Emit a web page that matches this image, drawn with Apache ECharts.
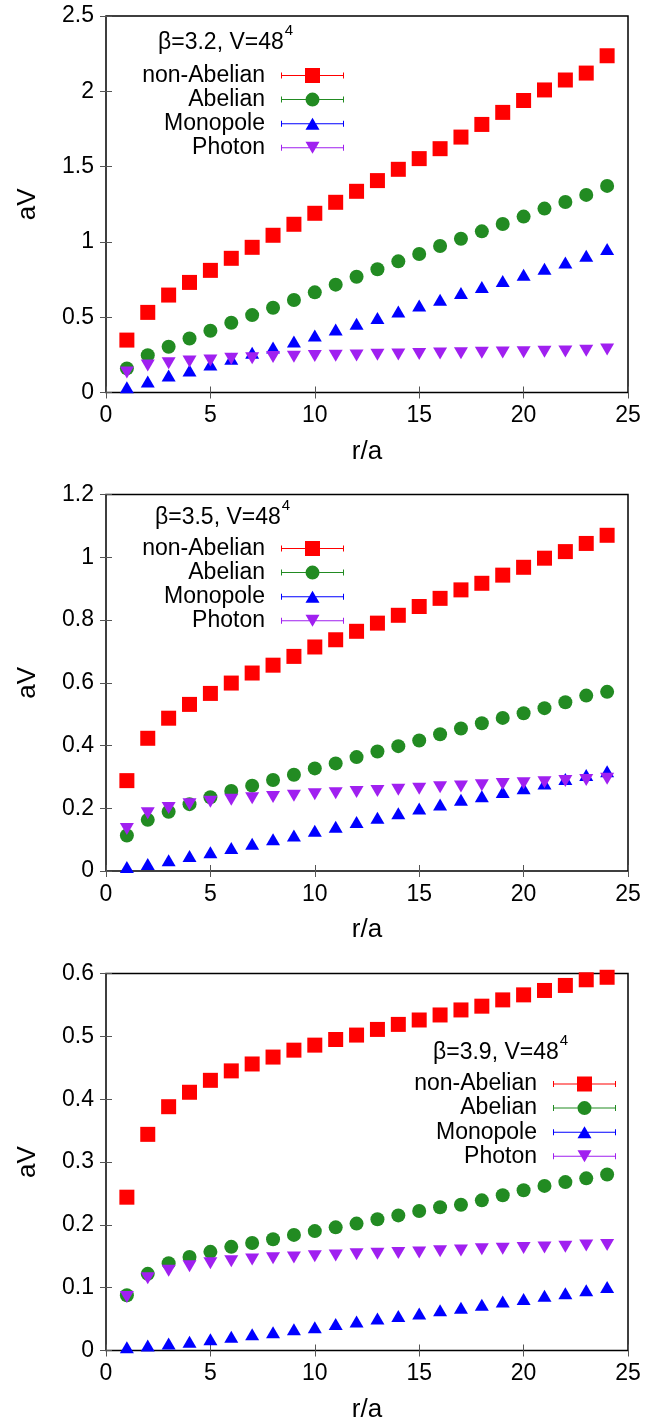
<!DOCTYPE html>
<html>
<head>
<meta charset="utf-8">
<script src="https://cdn.jsdelivr.net/npm/echarts@6/dist/echarts.min.js"></script>
<style>
  html, body { margin: 0; padding: 0; background: #fff; }
  #chart { width: 648px; height: 1426px; }
</style>
</head>
<body>
<div id="chart"></div>
<script>
// Static potential aV versus separation r/a for three lattice couplings
const R = [1,2,3,4,5,6,7,8,9,10,11,12,13,14,15,16,17,18,19,20,21,22,23,24];
const xTicks = { min: 0, max: 25, interval: 5 };

// beta = 3.2
const nonAbelian32 = [0.348,0.532,0.647,0.731,0.811,0.891,0.964,1.044,1.117,1.190,1.263,1.336,1.407,1.482,1.553,1.619,1.696,1.780,1.860,1.939,2.009,2.075,2.121,2.236];
const abelian32    = [0.160,0.248,0.304,0.359,0.410,0.463,0.514,0.563,0.614,0.665,0.716,0.769,0.818,0.871,0.920,0.973,1.021,1.070,1.119,1.168,1.221,1.265,1.312,1.372];
const monopole32   = [0.035,0.073,0.113,0.146,0.186,0.224,0.264,0.299,0.339,0.379,0.419,0.456,0.494,0.538,0.578,0.616,0.660,0.700,0.740,0.782,0.822,0.864,0.908,0.953];
const photon32     = [0.133,0.179,0.195,0.206,0.213,0.224,0.228,0.235,0.237,0.242,0.244,0.246,0.250,0.253,0.255,0.259,0.261,0.264,0.266,0.268,0.270,0.273,0.277,0.286];

// beta = 3.5
const nonAbelian35 = [0.288,0.423,0.487,0.531,0.566,0.599,0.631,0.656,0.684,0.714,0.737,0.764,0.790,0.815,0.843,0.869,0.896,0.917,0.943,0.968,0.997,1.018,1.044,1.070];
const abelian35    = [0.113,0.163,0.189,0.213,0.235,0.255,0.272,0.290,0.307,0.327,0.343,0.363,0.381,0.398,0.416,0.436,0.454,0.471,0.488,0.503,0.519,0.538,0.559,0.571];
const monopole35   = [0.013,0.022,0.034,0.048,0.060,0.073,0.087,0.101,0.113,0.128,0.141,0.156,0.170,0.184,0.199,0.212,0.227,0.238,0.252,0.264,0.279,0.293,0.306,0.318];
const photon35     = [0.134,0.184,0.201,0.213,0.221,0.227,0.232,0.236,0.240,0.245,0.248,0.252,0.255,0.259,0.262,0.267,0.269,0.273,0.277,0.280,0.283,0.287,0.290,0.294];

// beta = 3.9
const nonAbelian39 = [0.244,0.344,0.388,0.411,0.430,0.445,0.456,0.467,0.478,0.486,0.495,0.502,0.511,0.519,0.526,0.534,0.542,0.548,0.558,0.566,0.573,0.581,0.590,0.594];
const abelian39    = [0.088,0.122,0.139,0.149,0.157,0.165,0.171,0.177,0.184,0.190,0.196,0.202,0.209,0.215,0.222,0.228,0.232,0.239,0.247,0.255,0.262,0.268,0.274,0.280];
const monopole39   = [0.005,0.008,0.011,0.014,0.018,0.022,0.026,0.029,0.034,0.037,0.042,0.046,0.051,0.055,0.059,0.064,0.068,0.073,0.078,0.082,0.087,0.091,0.096,0.101];
const photon39     = [0.085,0.115,0.127,0.134,0.139,0.142,0.145,0.147,0.148,0.150,0.151,0.153,0.154,0.155,0.156,0.158,0.159,0.161,0.162,0.163,0.164,0.165,0.167,0.168];

const seriesNames = ['non-Abelian', 'Abelian', 'Monopole', 'Photon'];
const panelTitles = ['3.2', '3.5', '3.9'];
const yRanges = [
  { max: 2.5, interval: 0.5 },
  { max: 1.2, interval: 0.2 },
  { max: 0.6, interval: 0.1 }
];
const panelData = [
  [nonAbelian32, abelian32, monopole32, photon32],
  [nonAbelian35, abelian35, monopole35, photon35],
  [nonAbelian39, abelian39, monopole39, photon39]
];

const FONT = 'Liberation Sans, Arial, Helvetica, sans-serif';
const colors = ['#ff0000', '#228b22', '#0000ff', '#a020f0'];
const symbols = [
  { symbol: 'rect', symbolSize: 15, symbolRotate: 0 },
  { symbol: 'circle', symbolSize: 14, symbolRotate: 0 },
  { symbol: 'triangle', symbolSize: [14, 12], symbolRotate: 0 },
  { symbol: 'triangle', symbolSize: [14, 12], symbolRotate: 180 }
];

// key samples: error-bar style line with end caps and the marker in the middle
const barPart = 'M0 0 M63 16 M0 5 H1 V11 H0 Z M62 5 H63 V11 H62 Z M1 7.5 H62 V8.5 H1 Z ';
const keyIcons = [
  'path://' + barPart + 'M24 0.5 H39 V15.5 H24 Z',
  'path://' + barPart + 'M24.5 8 A7 7 0 1 1 38.5 8 A7 7 0 1 1 24.5 8 Z',
  'path://' + barPart + 'M31.5 2 L38.5 14 L24.5 14 Z',
  'path://' + barPart + 'M24.5 2 L38.5 2 L31.5 14 Z'
];

const grids = [
  { left: 106, right: 20, top: 16, height: 376.5 },
  { left: 106, right: 20, top: 494.5, height: 376.5 },
  { left: 106, right: 20, top: 973.5, height: 377 }
];

// key placement per panel
const keyLayout = [
  { right: 304, top: 64, titleLeft: 158, titleTop: 23 },
  { right: 304, top: 537, titleLeft: 155, titleTop: 498.5 },
  { right: 32, top: 1072.5, titleLeft: 433, titleTop: 1033.5 }
];

const xAxes = [], yAxes = [], series = [], legends = [], titles = [];

grids.forEach((g, k) => {
  g.show = true;
  g.borderColor = '#000';
  g.borderWidth = 1.5;
  g.backgroundColor = 'transparent';

  const tick = { show: true, inside: true, length: 6, lineStyle: { color: '#555', width: 1 } };

  xAxes.push({
    type: 'value', gridIndex: k, position: 'bottom',
    min: xTicks.min, max: xTicks.max, interval: xTicks.interval,
    name: 'r/a', nameLocation: 'middle', nameGap: 46,
    nameTextStyle: { fontSize: 26, fontFamily: FONT, color: '#000' },
    axisLine: { show: false },
    axisTick: tick,
    axisLabel: { fontSize: 23, fontFamily: FONT, color: '#000', margin: 12 },
    splitLine: { show: false }
  });
  xAxes.push({
    type: 'value', gridIndex: k, position: 'top',
    min: xTicks.min, max: xTicks.max, interval: xTicks.interval,
    axisLine: { show: false }, axisTick: tick,
    axisLabel: { show: false }, splitLine: { show: false }
  });
  yAxes.push({
    type: 'value', gridIndex: k, position: 'left',
    min: 0, max: yRanges[k].max, interval: yRanges[k].interval,
    name: 'aV', nameLocation: 'middle', nameGap: 65, nameRotate: 90,
    nameTextStyle: { fontSize: 26, fontFamily: FONT, color: '#000' },
    axisLine: { show: false },
    axisTick: tick,
    axisLabel: { fontSize: 23, fontFamily: FONT, color: '#000', margin: 12 },
    splitLine: { show: false }
  });
  yAxes.push({
    type: 'value', gridIndex: k, position: 'right',
    min: 0, max: yRanges[k].max, interval: yRanges[k].interval,
    axisLine: { show: false }, axisTick: tick,
    axisLabel: { show: false }, splitLine: { show: false }
  });

  panelData[k].forEach((vals, s) => {
    series.push({
      type: 'scatter',
      name: seriesNames[s],
      xAxisIndex: 2 * k,
      yAxisIndex: 2 * k,
      data: R.map((r, i) => [r, vals[i]]),
      symbol: symbols[s].symbol,
      symbolSize: symbols[s].symbolSize,
      symbolRotate: symbols[s].symbolRotate,
      itemStyle: { color: colors[s], opacity: 1 },
      emphasis: { disabled: true },
      silent: true,
      z: 2 + s * 0.01
    });
  });

  const kl = keyLayout[k];
  legends.push({
    orient: 'vertical',
    right: kl.right,
    top: kl.top,
    align: 'right',
    padding: 0,
    itemWidth: 63,
    itemHeight: 16,
    itemGap: 1.1,
    selectedMode: false,
    textStyle: { fontSize: 23, fontFamily: FONT, color: '#000', padding: [0, 11, 0, 0] },
    data: seriesNames.map((n, s) => ({ name: n, icon: keyIcons[s] }))
  });

  titles.push({
    text: '{m|\u03b2=' + panelTitles[k] + ', V=48}{s|4}',
    left: kl.titleLeft,
    top: kl.titleTop,
    padding: 0,
    textStyle: {
      fontWeight: 'normal',
      rich: {
        m: { fontSize: 23, fontWeight: 'normal', fontFamily: FONT, color: '#000', lineHeight: 23, verticalAlign: 'bottom' },
        s: { fontSize: 15, fontWeight: 'normal', fontFamily: FONT, color: '#000', lineHeight: 31, verticalAlign: 'top', padding: [0, 0, 0, 1] }
      }
    }
  });
});

const chart = echarts.init(document.getElementById('chart'), null, { renderer: 'canvas' });
chart.setOption({
  animation: false,
  backgroundColor: '#fff',
  title: titles,
  legend: legends,
  grid: grids,
  xAxis: xAxes,
  yAxis: yAxes,
  series: series
});
</script>
</body>
</html>
